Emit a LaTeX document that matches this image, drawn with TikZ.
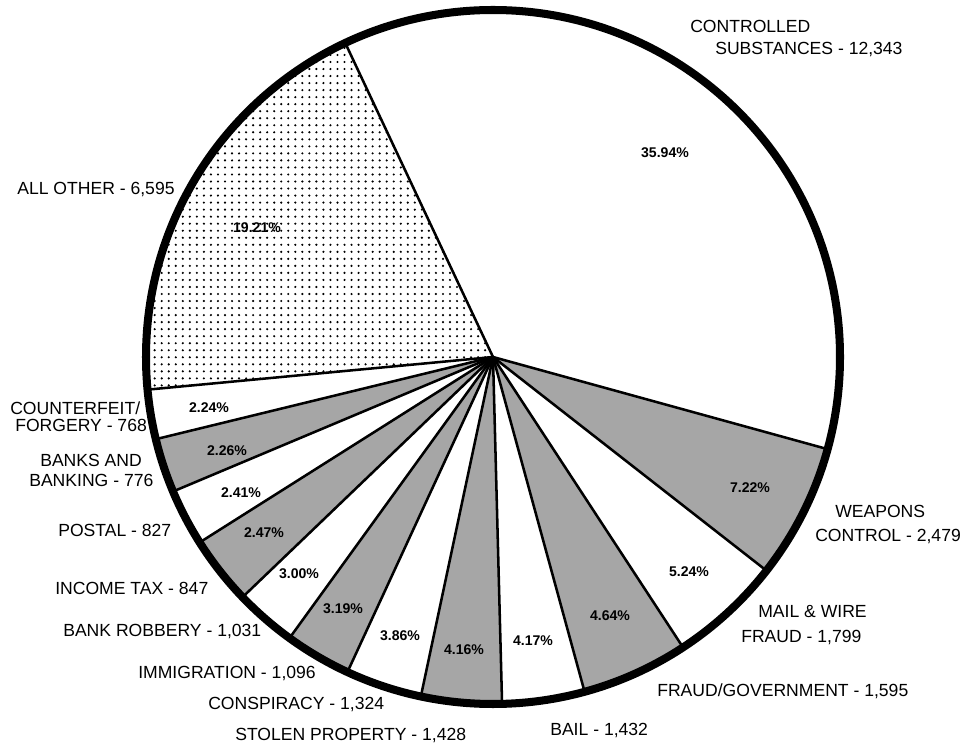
\documentclass[tikz,border=0pt]{standalone}
\usepackage{fontspec}
\setmainfont{Liberation Sans}
\usepackage{tkz-euclide}
\usetikzlibrary{patterns.meta}
\tikzset{lbl/.style={font=\fontsize{12.5}{14}\selectfont, inner sep=0pt, anchor=base west},
  pct/.style={font=\bfseries\fontsize{10}{12}\selectfont, inner sep=0pt, text height=7.2pt, text depth=0pt}}

\begin{document}
\begin{tikzpicture}[x=0.025cm,y=0.025cm]
\useasboundingbox (0,0) rectangle (961,744);
\tkzDefPoint(493,387){O}
\foreach \ang [count=\i] in {115.2,-15.4,-38,-56.8,-74.7,-88.5,-102,-114.8,-125.9,-136.2,-147.7,-157.2,-166.3,-174.6}
  {\tkzDefShiftPoint[O](\ang:347){P\i}}
% shaded sectors
\foreach \a/\b in {-15.4/-38, -56.8/-74.7, -88.5/-102, -114.8/-125.9, -136.2/-147.7, -157.2/-166.3}
  \fill[gray!70] (O) -- ++(\a:347) arc[start angle=\a, end angle=\b, radius=347] -- cycle;
\fill[pattern={Dots[radius=0.85pt, distance=5pt]}] (O) -- (P14) arc[start angle=-174.6, end angle=-244.8, radius=347] -- cycle;
\tkzDrawSegments[line width=1.8pt](O,P1 O,P2 O,P3 O,P4 O,P5 O,P6 O,P7 O,P8 O,P9 O,P10 O,P11 O,P12 O,P13 O,P14)
\draw[line width=5.7pt] (O) circle[radius=347];
% percentages
\node[pct] (p1) at (665,592) {35.94\%};
\node[pct] (p2) at (750,257) {7.22\%};
\node[pct] (p3) at (689,173) {5.24\%};
\node[pct] (p4) at (610,129) {4.64\%};
\node[pct] (p5) at (533,104) {4.17\%};
\node[pct] (p6) at (464,95) {4.16\%};
\node[pct] (p7) at (400,109) {3.86\%};
\node[pct] (p8) at (343,136) {3.19\%};
\node[pct] (p9) at (299,171) {3.00\%};
\node[pct] (p10) at (264,212) {2.47\%};
\node[pct] (p11) at (241,252) {2.41\%};
\node[pct] (p12) at (227,294) {2.26\%};
\node[pct] (p13) at (209,337) {2.24\%};
\node[pct] (p14) at (257,517) {19.21\%};
% labels
\node[lbl] (l1a) at (690,711) {CONTROLLED};
\node[lbl] (l1b) at (715,689) {SUBSTANCES - 12,343};
\node[lbl] (l2a) at (835,226) {WEAPONS};
\node[lbl] (l2b) at (815,202) {CONTROL - 2,479};
\node[lbl] (l3a) at (758,126) {MAIL \& WIRE};
\node[lbl] (l3b) at (741,101) {FRAUD - 1,799};
\node[lbl] (l4) at (657,47) {FRAUD/GOVERNMENT - 1,595};
\node[lbl] (l5) at (550,9) {BAIL - 1,432};
\node[lbl] (l6) at (235,4) {STOLEN PROPERTY - 1,428};
\node[lbl] (l7) at (208,34) {CONSPIRACY - 1,324};
\node[lbl] (l8) at (138,66) {IMMIGRATION - 1,096};
\node[lbl] (l9) at (63,107) {BANK ROBBERY - 1,031};
\node[lbl] (l10) at (55,149) {INCOME TAX - 847};
\node[lbl] (l11) at (58,207) {POSTAL - 827};
\node[lbl] (l12a) at (40,277) {BANKS AND};
\node[lbl] (l12b) at (29,257) {BANKING - 776};
\node[lbl] (l13a) at (10,329) {COUNTERFEIT/};
\node[lbl] (l13b) at (15,312) {FORGERY - 768};
\node[lbl] (l14) at (17,549) {ALL OTHER - 6,595};
\end{tikzpicture}
\end{document}
